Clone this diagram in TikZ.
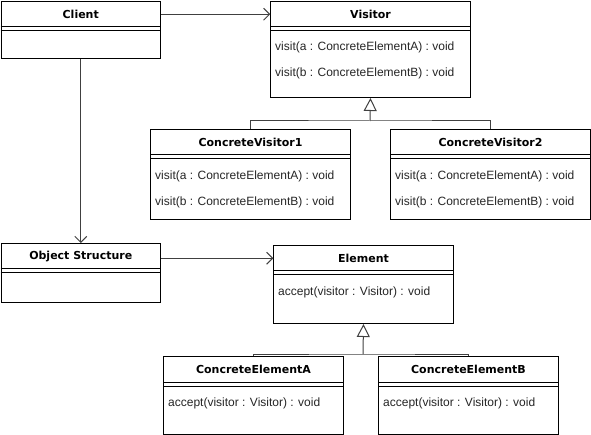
\documentclass[tikz,border=0pt]{standalone}
\usepackage{fontspec}
\setmainfont{Liberation Sans}
\newfontfamily\headfont{DejaVu Sans}
\usetikzlibrary{arrows.meta,calc}
\tikzset{
  boxframe/.style={draw=black, line width=1pt, fill=white, inner sep=0pt, anchor=north west},
  headtext/.style={inner sep=0pt, anchor=north, font=\headfont\bfseries\fontsize{11}{12}\selectfont},
  bodytext/.style={inner sep=0pt, anchor=west, font=\fontsize{12}{14}\selectfont, text=black!85},
  conn/.style={draw=black!75, line width=1pt},
  assoc/.style={conn, -{Straight Barb[length=6pt,width=12pt,line width=1pt]}},
  inherit/.style={conn, -{Triangle[open,length=13pt,width=13pt,line width=1pt,fill=white]}},
}
\newcommand{\umlclass}[6]{% name, x, y, w, h, title
  \node[boxframe, minimum width=#4pt, minimum height=#5pt] (#1) at (#2,#3) {};
  \node[headtext, minimum width=#4pt, minimum height=26pt, text height=8pt] (#1-t) at (#1.north) {#6};
  \draw[line width=1pt] ([yshift=-26pt]#1.north west) -- ([yshift=-26pt]#1.north east);
  \draw[line width=1pt] ([yshift=-30pt]#1.north west) -- ([yshift=-30pt]#1.north east);
}
\begin{document}
\begin{tikzpicture}[x=1pt,y=-1pt]
\useasboundingbox (0,0) rectangle (591,435);
% classes
\umlclass{client}{0.5}{1}{159.5}{57}{Client}
\umlclass{visitor}{270}{1}{200}{96}{Visitor}
\node[bodytext] (v1) at (275,47.5) {visit(a : ConcreteElementA) : void};
\node[bodytext] (v2) at (275,73.5) {visit(b : ConcreteElementB) : void};
\umlclass{cv1}{150}{129}{200}{90}{ConcreteVisitor1}
\node[bodytext] (c1a) at (155,176.5) {visit(a : ConcreteElementA) : void};
\node[bodytext] (c1b) at (155,202.5) {visit(b : ConcreteElementB) : void};
\umlclass{cv2}{390}{129}{200}{90}{ConcreteVisitor2}
\node[bodytext] (c2a) at (395,176.5) {visit(a : ConcreteElementA) : void};
\node[bodytext] (c2b) at (395,202.5) {visit(b : ConcreteElementB) : void};
\umlclass{os}{0.5}{243}{159.5}{59}{Object Structure}
\umlclass{element}{273}{245}{180}{78}{Element}
\node[bodytext] (e1) at (278,292.5) {accept(visitor : Visitor) : void};
\umlclass{cea}{163}{356}{180}{78}{ConcreteElementA}
\node[bodytext] (ea1) at (168,403.5) {accept(visitor : Visitor) : void};
\umlclass{ceb}{378}{356}{180}{78}{ConcreteElementB}
\node[bodytext] (eb1) at (383,403.5) {accept(visitor : Visitor) : void};
% associations
\draw[assoc] (client-t.east) -- (visitor-t.west);
\draw[assoc] (client.south) -- (os.north);
\draw[assoc] (os-t.east |- element-t.west) -- (element-t.west);
% inheritance
\coordinate (vj) at (370,121);
\draw[conn] (cv1.north) |- (vj) -| (cv2.north);
\draw[inherit] (vj) -- (visitor.south);
\coordinate (ej) at (363,354);
\draw[conn] (cea.north) |- (ej) -| (ceb.north);
\draw[inherit] (ej) -- (element.south);
\end{tikzpicture}
\end{document}
